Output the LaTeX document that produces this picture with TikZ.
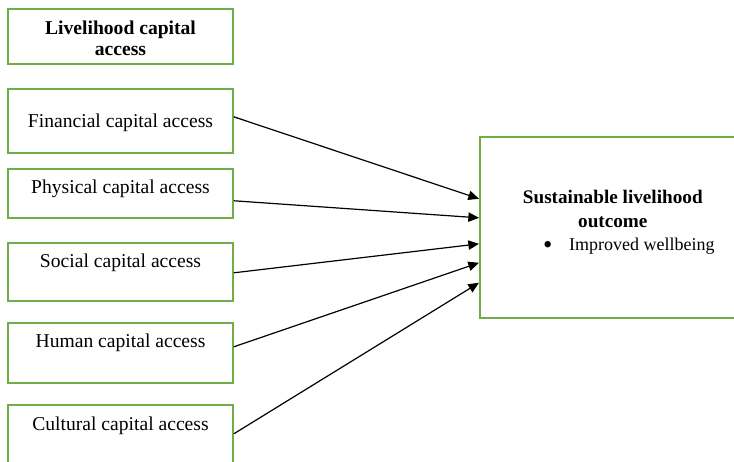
\documentclass[tikz,border=0pt]{standalone}
\usepackage{fontspec}
\setmainfont{Liberation Serif}
\usepackage{tikz}
\usetikzlibrary{arrows.meta}
\usepackage{xcolor}
\definecolor{boxgreen}{RGB}{112,173,71}
\tikzset{
    capbox/.style={draw=boxgreen, line width=1.2pt, inner ysep=0pt, minimum width=168.75pt, align=center, font=\fontsize{14.7pt}{15.75pt}\selectfont},
    outbox/.style={draw=boxgreen, line width=1.2pt, inner ysep=0pt, minimum width=199.5pt, align=center, font=\fontsize{14.4pt}{17.6pt}\selectfont},
    link/.style={-{Triangle[length=8pt, width=7pt]}, line width=0.9pt}
}

\begin{document}
\begin{tikzpicture}[x=0.75pt, y=-0.75pt]
    \useasboundingbox (0,0) rectangle (734,461);
    % left column
    \node[capbox, anchor=north, text height=35.25pt, text depth=6pt] (title) at (120.5,8) {\textbf{Livelihood capital}\\\textbf{access}};
    \node[capbox, anchor=north, text height=29.25pt, text depth=18.75pt] (fin) at (120.5,88) {Financial capital access};
    \node[capbox, anchor=north, text height=18.75pt, text depth=18pt] (phys) at (120.5,168) {Physical capital access};
    \node[capbox, anchor=north, text height=18.75pt, text depth=24.75pt] (soc) at (120.5,242) {Social capital access};
    \node[capbox, anchor=north, text height=18.75pt, text depth=26.25pt] (hum) at (120.5,322) {Human capital access};
    \node[capbox, anchor=north, text height=19.5pt, text depth=25.5pt] (cult) at (120.5,404) {Cultural capital access};
    % outcome
    \node[outbox, anchor=north west, text height=85.5pt, text depth=50.25pt] (out) at (479,136)
        {\textbf{Sustainable livelihood}\\\textbf{outcome}\\{\fontsize{13.5pt}{17.6pt}\selectfont\hspace*{24pt}\raisebox{-0.35ex}{\fontsize{20pt}{17.6pt}\selectfont\textbullet}\hspace{12.5pt}Improved wellbeing}};
    % links
    \draw[link] ([yshift=3pt]fin.east) -- ([yshift=21.4pt]out.west);
    \draw[link] ([yshift=-5.6pt]phys.east) -- ([yshift=7.1pt]out.west);
    \draw[link] ([yshift=-0.75pt]soc.east) -- ([yshift=-12.4pt]out.west);
    \draw[link] ([yshift=4.5pt]hum.east) -- ([yshift=-26.6pt]out.west);
    \draw[link] ([yshift=0.75pt]cult.east) -- ([yshift=-41.6pt]out.west);
\end{tikzpicture}
\end{document}
